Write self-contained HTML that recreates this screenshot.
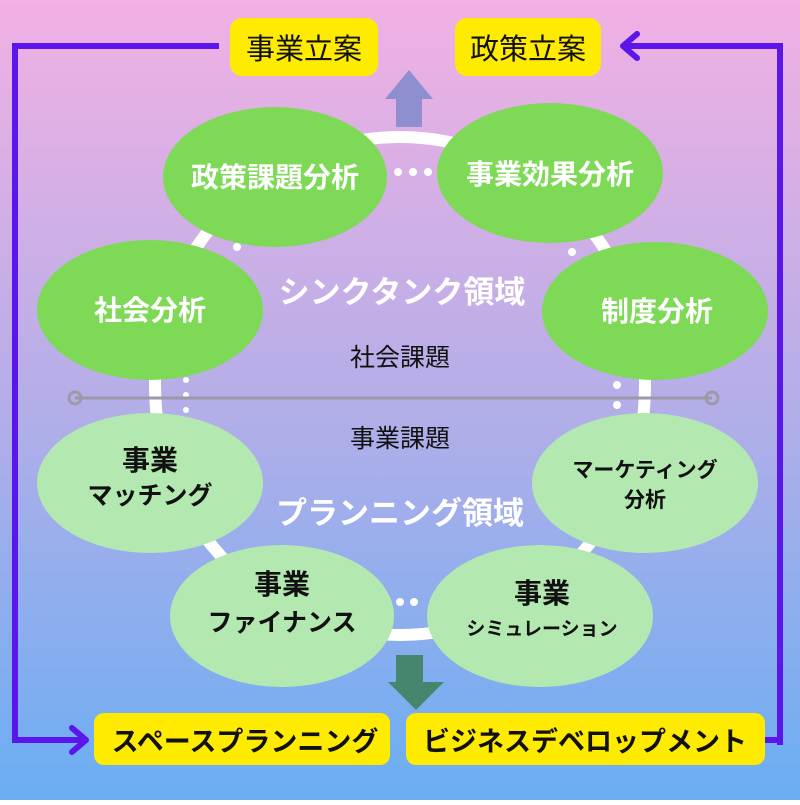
<!DOCTYPE html>
<html><head><meta charset="utf-8"><style>
body{margin:0}
svg text{font-family:"Liberation Sans","Noto Sans CJK JP",sans-serif}
</style></head><body>
<svg width="800" height="800" xmlns="http://www.w3.org/2000/svg">
<defs><linearGradient id="bg" x1="0" y1="0" x2="0" y2="1">
<stop offset="0" stop-color="#f2b0e3"/><stop offset="0.5" stop-color="#b5aee8"/><stop offset="1" stop-color="#6aaef3"/></linearGradient></defs>
<rect width="800" height="800" fill="url(#bg)"/>
<ellipse cx="400" cy="386" rx="245" ry="249" fill="none" stroke="#fff" stroke-width="12"/>
<g fill="#fff">
<circle cx="398" cy="172" r="4"/><circle cx="413" cy="172" r="4"/><circle cx="428" cy="172" r="4"/>
<circle cx="237" cy="247" r="4"/><circle cx="572" cy="252" r="4"/>
<circle cx="186" cy="380" r="3"/><circle cx="186" cy="395" r="3"/><circle cx="186" cy="410" r="3"/>
<circle cx="617" cy="385" r="4"/><circle cx="617" cy="405" r="4"/>
<circle cx="400" cy="602" r="4"/><circle cx="414" cy="602" r="4"/>
</g>
<line x1="75" y1="398" x2="712" y2="398" stroke="#9a9aa8" stroke-width="3"/>
<circle cx="75" cy="398" r="6" fill="none" stroke="#9a9aa8" stroke-width="3"/>
<circle cx="712" cy="398" r="6" fill="none" stroke="#9a9aa8" stroke-width="3"/>
<ellipse cx="275" cy="177" rx="112" ry="70" fill="#7ed957"/>
<ellipse cx="550" cy="173" rx="113" ry="70" fill="#7ed957"/>
<ellipse cx="150" cy="310" rx="113" ry="70" fill="#7ed957"/>
<ellipse cx="655" cy="311" rx="113" ry="69" fill="#7ed957"/>
<ellipse cx="150" cy="483" rx="113" ry="70" fill="#b3e9b0"/>
<ellipse cx="645" cy="483" rx="113" ry="70" fill="#b3e9b0"/>
<ellipse cx="282" cy="616" rx="112" ry="71" fill="#b3e9b0"/>
<ellipse cx="540" cy="616" rx="113" ry="71" fill="#b3e9b0"/>
<g font-weight="bold" fill="#fff" text-anchor="middle" font-size="28">
<text x="275" y="187">政策課題分析</text>
<text x="550" y="184">事業効果分析</text>
<text x="150" y="320">社会分析</text>
<text x="657" y="321">制度分析</text>
<text x="402" y="303" font-size="31">シンクタンク領域</text>
<text x="400" y="524" font-size="31">プランニング領域</text>
</g>
<g fill="#111" text-anchor="middle" font-weight="bold">
<text x="150" y="470" font-size="28">事業</text>
<text x="150" y="504" font-size="25">マッチング</text>
<text x="645" y="477" font-size="21">マーケティング</text>
<text x="645" y="507" font-size="21">分析</text>
<text x="282" y="594" font-size="28">事業</text>
<text x="282" y="631" font-size="25">ファイナンス</text>
<text x="542" y="603" font-size="28">事業</text>
<text x="542" y="635" font-size="19">シミュレーション</text>
</g>
<g fill="#111" text-anchor="middle" font-size="25">
<text x="400" y="366">社会課題</text>
<text x="400" y="447">事業課題</text>
</g>
<polygon points="409,70 385,99 396,99 396,127 422,127 422,99 433,99" fill="#8f8fd0"/>
<polygon points="396,655 423,655 423,682 444,682 416,710 388,682 396,682" fill="#47866e"/>
<g fill="#ffeb00">
<rect x="230" y="18" width="148" height="58" rx="12"/>
<rect x="455" y="18" width="146" height="58" rx="12"/>
<rect x="94" y="713" width="296" height="52" rx="10"/>
<rect x="406" y="713" width="359" height="52" rx="10"/>
</g>
<g fill="#111" text-anchor="middle">
<text x="304" y="59" font-size="29">事業立案</text>
<text x="528" y="59" font-size="29">政策立案</text>
<text x="245" y="751" font-size="27" font-weight="bold">スペースプランニング</text>
<text x="585" y="751" font-size="27" font-weight="bold">ビジネスデベロップメント</text>
</g>
<g fill="none" stroke="#5b17eb" stroke-width="6">
<polyline points="219,46 15,46 15,740 84,740"/>
<polyline points="72,728 86,740 72,752" stroke-linecap="round" stroke-linejoin="round"/>
<polyline points="780,43 780,745"/>
<polyline points="780,46 624,46"/>
<polyline points="637,34 623,46 637,58" stroke-linecap="round" stroke-linejoin="round"/>
<line x1="765" y1="740" x2="780" y2="740"/>
</g>
</svg>
</body></html>
